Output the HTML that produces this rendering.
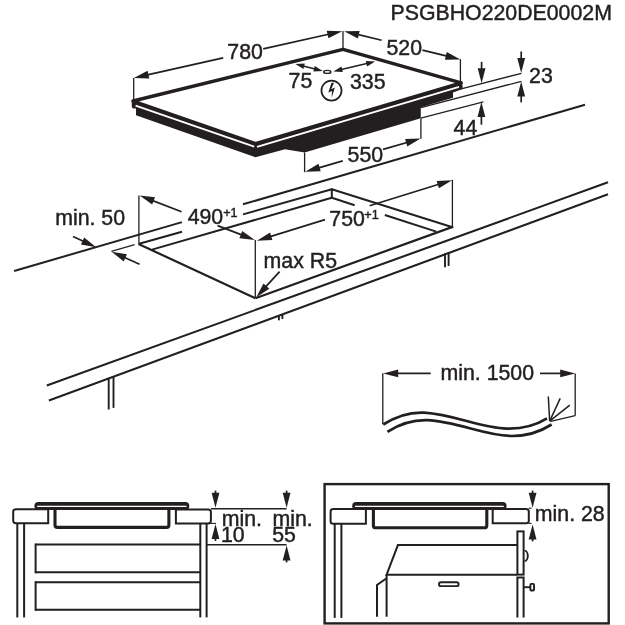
<!DOCTYPE html>
<html><head><meta charset="utf-8"><title>Hob installation</title><style>
html,body{margin:0;padding:0;background:#fff;width:625px;height:625px;overflow:hidden}
svg{display:block;will-change:transform;font-family:"Liberation Sans",sans-serif}
text{fill:#231f20;stroke:#231f20;stroke-width:0.45px}
</style></head><body>
<svg width="625" height="625" viewBox="0 0 625 625">
<text x="390.54" y="19.88" font-size="21.3">PSGBHO220DE0002M</text>
<polygon points="131.8,99.6 255.5,143.6 462,81 462.8,89 453,92.6 453,97.8 420.8,107.2 420.8,118.2 304.6,152.4 285,149.2 255.5,157.2 136,115.2 136,108.4 133.2,108.4 131.8,107.2" fill="#231f20" stroke="none" stroke-width="0" stroke-linejoin="round"/>
<line x1="135.6" y1="105.6" x2="254.2" y2="146.7" stroke="#fff" stroke-width="1.9" stroke-linecap="butt"/>
<line x1="257" y1="146.8" x2="459" y2="86.9" stroke="#fff" stroke-width="1.9" stroke-linecap="butt"/>
<polygon points="133,101 343,49.3 461.2,82.9 255.5,143.6" fill="#fff" stroke="#231f20" stroke-width="3.4" stroke-linejoin="round"/>
<line x1="133.7" y1="78" x2="133.7" y2="100" stroke="#231f20" stroke-width="1.3" stroke-linecap="butt"/>
<polygon points="133.8,77.9 149.29,78.43 147.58,70.81" fill="#231f20" stroke="none" stroke-width="0" />
<polygon points="342.2,31.2 326.71,30.67 328.42,38.29" fill="#231f20" stroke="none" stroke-width="0" />
<line x1="144.05" y1="75.6" x2="223.2" y2="57.87" stroke="#231f20" stroke-width="1.7" stroke-linecap="butt"/>
<line x1="263.2" y1="48.9" x2="331.95" y2="33.5" stroke="#231f20" stroke-width="1.7" stroke-linecap="butt"/>
<text x="227.36" y="59.48" font-size="21.3">780</text>
<line x1="343" y1="31" x2="343" y2="48" stroke="#231f20" stroke-width="1.3" stroke-linecap="butt"/>
<polygon points="344.2,31.2 357.86,38.53 359.7,30.95" fill="#231f20" stroke="none" stroke-width="0" />
<polygon points="460.4,59.4 446.74,52.07 444.9,59.65" fill="#231f20" stroke="none" stroke-width="0" />
<line x1="354.4" y1="33.68" x2="381.6" y2="40.28" stroke="#231f20" stroke-width="1.7" stroke-linecap="butt"/>
<line x1="422.4" y1="50.18" x2="450.2" y2="56.92" stroke="#231f20" stroke-width="1.7" stroke-linecap="butt"/>
<text x="386.49" y="54.68" font-size="21.3">520</text>
<line x1="460.4" y1="59.2" x2="460.4" y2="81" stroke="#231f20" stroke-width="1.3" stroke-linecap="butt"/>
<ellipse cx="327.3" cy="71.9" rx="3.6" ry="1.5" fill="#fff" stroke="#231f20" stroke-width="1.4"/>
<polygon points="295.4,64.1 303.46,68.99 304.81,63.55" fill="#231f20" stroke="none" stroke-width="0" />
<polygon points="322.8,70.9 314.74,66.01 313.39,71.45" fill="#231f20" stroke="none" stroke-width="0" />
<line x1="300" y1="65.2" x2="318" y2="69.7" stroke="#231f20" stroke-width="1.6" stroke-linecap="butt"/>
<polygon points="333.4,71.4 342.8,72.07 341.52,66.62" fill="#231f20" stroke="none" stroke-width="0" />
<polygon points="375.2,61.6 365.8,60.93 367.08,66.38" fill="#231f20" stroke="none" stroke-width="0" />
<line x1="338" y1="70.3" x2="370" y2="62.8" stroke="#231f20" stroke-width="1.6" stroke-linecap="butt"/>
<text x="288.57" y="88.48" font-size="21.3">75</text>
<text x="349.99" y="89.18" font-size="21.3">335</text>
<circle cx="331.5" cy="90.6" r="10.05" fill="none" stroke="#231f20" stroke-width="1.7"/>
<polygon points="331.5,82.8 334,82.8 331.2,89.3 334.9,87.4 331.6,98 332,91 328.3,92.4" fill="#231f20" stroke="none" stroke-width="0" />
<line x1="461.2" y1="88.9" x2="521.4" y2="73.3" stroke="#231f20" stroke-width="1.3" stroke-linecap="butt"/>
<line x1="420.8" y1="107.6" x2="521.4" y2="81.3" stroke="#231f20" stroke-width="1.3" stroke-linecap="butt"/>
<line x1="420.8" y1="118.2" x2="483.4" y2="101.9" stroke="#231f20" stroke-width="1.3" stroke-linecap="butt"/>
<line x1="521.2" y1="62.5" x2="521.2" y2="51.5" stroke="#231f20" stroke-width="1.7" stroke-linecap="butt"/>
<polygon points="521.2,73 525.1,58 517.3,58" fill="#231f20" stroke="none" stroke-width="0" />
<line x1="521.2" y1="91.9" x2="521.2" y2="102.4" stroke="#231f20" stroke-width="1.7" stroke-linecap="butt"/>
<polygon points="521.2,81.4 517.3,96.4 525.1,96.4" fill="#231f20" stroke="none" stroke-width="0" />
<line x1="481.6" y1="72.7" x2="481.6" y2="61.8" stroke="#231f20" stroke-width="1.7" stroke-linecap="butt"/>
<polygon points="481.6,83.2 485.5,68.2 477.7,68.2" fill="#231f20" stroke="none" stroke-width="0" />
<line x1="481.4" y1="112.4" x2="481.4" y2="124.7" stroke="#231f20" stroke-width="1.7" stroke-linecap="butt"/>
<polygon points="481.4,101.9 477.5,116.9 485.3,116.9" fill="#231f20" stroke="none" stroke-width="0" />
<text x="529.05" y="83.28" font-size="21.3">23</text>
<text x="453.55" y="134.55" font-size="21.3">44</text>
<line x1="304.6" y1="152.6" x2="304.6" y2="172.2" stroke="#231f20" stroke-width="1.3" stroke-linecap="butt"/>
<line x1="420.9" y1="118.5" x2="420.9" y2="138.8" stroke="#231f20" stroke-width="1.3" stroke-linecap="butt"/>
<polygon points="305.2,171.7 320.69,171.31 318.54,163.82" fill="#231f20" stroke="none" stroke-width="0" />
<polygon points="420.6,138.6 405.11,138.99 407.26,146.48" fill="#231f20" stroke="none" stroke-width="0" />
<line x1="315.29" y1="168.81" x2="342.7" y2="160.94" stroke="#231f20" stroke-width="1.7" stroke-linecap="butt"/>
<line x1="383" y1="149.38" x2="410.51" y2="141.49" stroke="#231f20" stroke-width="1.7" stroke-linecap="butt"/>
<text x="347.54" y="162.48" font-size="21.3">550</text>
<line x1="14.1" y1="271" x2="182" y2="222.09" stroke="#231f20" stroke-width="2.0" stroke-linecap="butt"/>
<line x1="243" y1="204.32" x2="585" y2="104.7" stroke="#231f20" stroke-width="2.0" stroke-linecap="butt"/>
<line x1="139.2" y1="243.8" x2="182" y2="231.67" stroke="#231f20" stroke-width="2.0" stroke-linecap="butt"/>
<line x1="243" y1="214.37" x2="331.8" y2="189.2" stroke="#231f20" stroke-width="2.0" stroke-linecap="butt"/>
<line x1="152" y1="249.6" x2="331.8" y2="197.8" stroke="#231f20" stroke-width="2.0" stroke-linecap="butt"/>
<line x1="331.8" y1="188.4" x2="331.8" y2="198.4" stroke="#231f20" stroke-width="2.0" stroke-linecap="butt"/>
<line x1="331.8" y1="189.2" x2="452.6" y2="227.2" stroke="#231f20" stroke-width="2.0" stroke-linecap="butt"/>
<line x1="331.8" y1="197.8" x2="354.7" y2="205.21" stroke="#231f20" stroke-width="2.0" stroke-linecap="butt"/>
<line x1="384.8" y1="214.94" x2="436.3" y2="231.6" stroke="#231f20" stroke-width="2.0" stroke-linecap="butt"/>
<line x1="138.5" y1="244" x2="255.4" y2="298.2" stroke="#231f20" stroke-width="2.2" stroke-linecap="butt"/>
<line x1="255.4" y1="298.2" x2="453.3" y2="226.6" stroke="#231f20" stroke-width="2.2" stroke-linecap="butt"/>
<line x1="138.9" y1="195.6" x2="138.9" y2="244" stroke="#231f20" stroke-width="1.3" stroke-linecap="butt"/>
<line x1="255.3" y1="240" x2="255.3" y2="298" stroke="#231f20" stroke-width="1.3" stroke-linecap="butt"/>
<line x1="452.4" y1="179.8" x2="452.4" y2="227" stroke="#231f20" stroke-width="1.3" stroke-linecap="butt"/>
<polygon points="139.6,195.6 152.2,204.62 155,197.34" fill="#231f20" stroke="none" stroke-width="0" />
<polygon points="254.8,239.9 242.2,230.88 239.4,238.16" fill="#231f20" stroke="none" stroke-width="0" />
<line x1="149.4" y1="199.37" x2="181.6" y2="211.75" stroke="#231f20" stroke-width="1.7" stroke-linecap="butt"/>
<line x1="217.6" y1="225.59" x2="245" y2="236.13" stroke="#231f20" stroke-width="1.7" stroke-linecap="butt"/>
<text x="187.63" y="223.78" font-size="21.3">490</text>
<text x="223.28" y="216.75" font-size="12.6">+1</text>
<polygon points="256.9,240.7 272.38,239.98 270.07,232.53" fill="#231f20" stroke="none" stroke-width="0" />
<polygon points="452.1,180.2 436.62,180.92 438.93,188.37" fill="#231f20" stroke="none" stroke-width="0" />
<line x1="266.93" y1="237.59" x2="325" y2="219.59" stroke="#231f20" stroke-width="1.7" stroke-linecap="butt"/>
<line x1="369.6" y1="205.77" x2="442.07" y2="183.31" stroke="#231f20" stroke-width="1.7" stroke-linecap="butt"/>
<text x="329.31" y="226.18" font-size="21.3">750</text>
<text x="364.33" y="218.65" font-size="12.6">+1</text>
<text x="263.62" y="267.58" font-size="21.3">max R5</text>
<line x1="263.37" y1="289.43" x2="279.6" y2="271.6" stroke="#231f20" stroke-width="1.7" stroke-linecap="butt"/>
<polygon points="256.3,297.2 269.28,288.73 263.51,283.48" fill="#231f20" stroke="none" stroke-width="0" />
<text x="55.16" y="224.68" font-size="21.3">min. 50</text>
<line x1="86.65" y1="242.84" x2="73" y2="236.6" stroke="#231f20" stroke-width="1.7" stroke-linecap="butt"/>
<polygon points="96.2,247.2 84.18,237.42 80.94,244.51" fill="#231f20" stroke="none" stroke-width="0" />
<line x1="111.4" y1="251.4" x2="134.6" y2="244.6" stroke="#231f20" stroke-width="1.2" stroke-linecap="butt"/>
<line x1="121.19" y1="255.98" x2="139.6" y2="264.2" stroke="#231f20" stroke-width="1.7" stroke-linecap="butt"/>
<polygon points="111.6,251.7 123.71,261.38 126.89,254.25" fill="#231f20" stroke="none" stroke-width="0" />
<line x1="46.8" y1="385.5" x2="608" y2="182.3" stroke="#231f20" stroke-width="2.1" stroke-linecap="butt"/>
<line x1="48.9" y1="400.6" x2="608" y2="194.2" stroke="#231f20" stroke-width="2.1" stroke-linecap="butt"/>
<line x1="108.7" y1="378.8" x2="108.7" y2="409.5" stroke="#231f20" stroke-width="1.9" stroke-linecap="butt"/>
<line x1="113.5" y1="377" x2="113.5" y2="407.9" stroke="#231f20" stroke-width="1.9" stroke-linecap="butt"/>
<line x1="278.9" y1="315.8" x2="278.9" y2="320.3" stroke="#231f20" stroke-width="1.9" stroke-linecap="butt"/>
<line x1="282.4" y1="314.8" x2="282.4" y2="319" stroke="#231f20" stroke-width="1.9" stroke-linecap="butt"/>
<line x1="445" y1="253.6" x2="445" y2="267.3" stroke="#231f20" stroke-width="1.9" stroke-linecap="butt"/>
<line x1="448.6" y1="252.4" x2="448.6" y2="266" stroke="#231f20" stroke-width="1.9" stroke-linecap="butt"/>
<line x1="382.8" y1="373.2" x2="382.8" y2="424.2" stroke="#231f20" stroke-width="1.3" stroke-linecap="butt"/>
<line x1="393.7" y1="373.4" x2="430.7" y2="373.4" stroke="#231f20" stroke-width="1.7" stroke-linecap="butt"/>
<polygon points="383.2,373.4 398.2,377.3 398.2,369.5" fill="#231f20" stroke="none" stroke-width="0" />
<text x="440.51" y="379.68" font-size="21.3">min. 1500</text>
<line x1="564.7" y1="373.4" x2="540" y2="373.4" stroke="#231f20" stroke-width="1.7" stroke-linecap="butt"/>
<polygon points="575.2,373.4 560.2,369.5 560.2,377.3" fill="#231f20" stroke="none" stroke-width="0" />
<line x1="575.2" y1="373.4" x2="575.2" y2="415.7" stroke="#231f20" stroke-width="1.3" stroke-linecap="butt"/>
<line x1="575.2" y1="415.7" x2="550.6" y2="421.4" stroke="#231f20" stroke-width="1.3" stroke-linecap="butt"/>
<path d="M383.2,424.5 C398,415 410,412 424,412.6 C455,414.5 480,428 507,428.6 C525,429 538,424 547,418.4" fill="none" stroke="#231f20" stroke-width="2.7" />
<path d="M387.4,431.9 C401,423 413,420 427,420.2 C458,421.5 485,436 512,436 C530,436 543,430 551.6,424.5" fill="none" stroke="#231f20" stroke-width="2.7" />
<line x1="549.7" y1="421.1" x2="548.3" y2="396.5" stroke="#231f20" stroke-width="1.5" stroke-linecap="butt"/>
<line x1="549.7" y1="421.1" x2="560.2" y2="398.4" stroke="#231f20" stroke-width="1.5" stroke-linecap="butt"/>
<line x1="549.7" y1="421.1" x2="569.8" y2="405.1" stroke="#231f20" stroke-width="1.5" stroke-linecap="butt"/>
<rect x="34.4" y="502.1" width="154.9" height="7.8" rx="3.9" fill="#231f20"/>
<line x1="37.2" y1="506.3" x2="186.5" y2="506.3" stroke="#fff" stroke-width="1.3" stroke-linecap="butt"/>
<path d="M55,509 V525 Q55,527.4 57.4,527.4 H166.5 Q168.9,527.4 168.9,525 V509" fill="none" stroke="#231f20" stroke-width="3.1" />
<path d="M48.2,509.2 H15.8 Q13.2,509.2 13.2,511.8 V520.6 Q13.2,523.2 15.8,523.2 H48.2 Z" fill="none" stroke="#231f20" stroke-width="2.0" />
<path d="M175.9,509.4 H208.3 Q210.9,509.4 210.9,512 V520.8 Q210.9,523.4 208.3,523.4 H175.9 Z" fill="none" stroke="#231f20" stroke-width="2.0" />
<line x1="17.3" y1="523.4" x2="17.3" y2="617.4" stroke="#231f20" stroke-width="2.0" stroke-linecap="butt"/>
<line x1="24.1" y1="523.4" x2="24.1" y2="617.4" stroke="#231f20" stroke-width="2.0" stroke-linecap="butt"/>
<line x1="200.3" y1="523.4" x2="200.3" y2="617.4" stroke="#231f20" stroke-width="2.0" stroke-linecap="butt"/>
<line x1="206.6" y1="523.4" x2="206.6" y2="617.4" stroke="#231f20" stroke-width="2.0" stroke-linecap="butt"/>
<line x1="35.6" y1="544.5" x2="200.3" y2="544.5" stroke="#231f20" stroke-width="2.0" stroke-linecap="butt"/>
<line x1="35.6" y1="572.3" x2="200.3" y2="572.3" stroke="#231f20" stroke-width="2.0" stroke-linecap="butt"/>
<line x1="35.6" y1="543.5" x2="35.6" y2="573.3" stroke="#231f20" stroke-width="2.0" stroke-linecap="butt"/>
<line x1="35.6" y1="582.2" x2="200.3" y2="582.2" stroke="#231f20" stroke-width="2.0" stroke-linecap="butt"/>
<line x1="35.6" y1="609.8" x2="200.3" y2="609.8" stroke="#231f20" stroke-width="2.0" stroke-linecap="butt"/>
<line x1="35.6" y1="581.2" x2="35.6" y2="610.8" stroke="#231f20" stroke-width="2.0" stroke-linecap="butt"/>
<line x1="210.9" y1="508.7" x2="286.6" y2="508.7" stroke="#231f20" stroke-width="1.4" stroke-linecap="butt"/>
<line x1="208" y1="523.4" x2="216" y2="523.4" stroke="#231f20" stroke-width="1.1" stroke-linecap="butt"/>
<line x1="206.5" y1="544.8" x2="286.6" y2="544.8" stroke="#231f20" stroke-width="1.4" stroke-linecap="butt"/>
<line x1="215.5" y1="497.3" x2="215.5" y2="490.6" stroke="#231f20" stroke-width="1.7" stroke-linecap="butt"/>
<polygon points="215.5,507.8 219.4,492.8 211.6,492.8" fill="#231f20" stroke="none" stroke-width="0" />
<line x1="286.6" y1="497.3" x2="286.6" y2="490.6" stroke="#231f20" stroke-width="1.7" stroke-linecap="butt"/>
<polygon points="286.6,507.8 290.5,492.8 282.7,492.8" fill="#231f20" stroke="none" stroke-width="0" />
<line x1="215.5" y1="534.5" x2="215.5" y2="541" stroke="#231f20" stroke-width="1.7" stroke-linecap="butt"/>
<polygon points="215.5,524 211.6,539 219.4,539" fill="#231f20" stroke="none" stroke-width="0" />
<line x1="286.6" y1="556.1" x2="286.6" y2="562.4" stroke="#231f20" stroke-width="1.7" stroke-linecap="butt"/>
<polygon points="286.6,545.6 282.7,560.6 290.5,560.6" fill="#231f20" stroke="none" stroke-width="0" />
<text x="221.76" y="525.75" font-size="21.3">min.</text>
<text x="220.95" y="542.28" font-size="21.3">10</text>
<text x="272.56" y="525.75" font-size="21.3">min.</text>
<text x="272.15" y="542.28" font-size="21.3">55</text>
<rect x="324.6" y="484.1" width="284.1" height="139.3" fill="none" stroke="#231f20" stroke-width="2.4"/>
<rect x="352.2" y="502.1" width="154.4" height="7.8" rx="3.9" fill="#231f20"/>
<line x1="355" y1="506.3" x2="503.8" y2="506.3" stroke="#fff" stroke-width="1.3" stroke-linecap="butt"/>
<path d="M373.4,509 V525.4 Q373.4,527.8 375.8,527.8 H484.4 Q486.8,527.8 486.8,525.4 V509" fill="none" stroke="#231f20" stroke-width="3.1" />
<path d="M365.9,509.1 H333.2 Q330.6,509.1 330.6,511.7 V521.2 Q330.6,523.8 333.2,523.8 H365.9 Z" fill="none" stroke="#231f20" stroke-width="2.0" />
<path d="M492.7,509 H526.2 Q528.8,509 528.8,511.6 V520.7 Q528.8,523.3 526.2,523.3 H492.7 Z" fill="none" stroke="#231f20" stroke-width="2.0" />
<line x1="334.7" y1="523.8" x2="334.7" y2="617.9" stroke="#231f20" stroke-width="2.0" stroke-linecap="butt"/>
<line x1="341.4" y1="523.8" x2="341.4" y2="617.9" stroke="#231f20" stroke-width="2.0" stroke-linecap="butt"/>
<line x1="532.6" y1="497.3" x2="532.6" y2="490.6" stroke="#231f20" stroke-width="1.7" stroke-linecap="butt"/>
<polygon points="532.6,507.8 536.5,492.8 528.7,492.8" fill="#231f20" stroke="none" stroke-width="0" />
<line x1="532.6" y1="535.1" x2="532.6" y2="541.4" stroke="#231f20" stroke-width="1.7" stroke-linecap="butt"/>
<polygon points="532.6,524.6 528.7,539.6 536.5,539.6" fill="#231f20" stroke="none" stroke-width="0" />
<line x1="528.8" y1="508.2" x2="531.6" y2="508.2" stroke="#231f20" stroke-width="1.1" stroke-linecap="butt"/>
<line x1="528.8" y1="523.4" x2="531.6" y2="523.4" stroke="#231f20" stroke-width="1.1" stroke-linecap="butt"/>
<text x="534.86" y="520.88" font-size="21.3">min. 28</text>
<polyline points="517,545.1 397.9,545.1 386.6,574.7 517,574.7" fill="none" stroke="#231f20" stroke-width="2.0" />
<line x1="386.6" y1="574.7" x2="386.6" y2="616.7" stroke="#231f20" stroke-width="2.0" stroke-linecap="butt"/>
<polyline points="386.6,578.3 377,585 377,616.7" fill="none" stroke="#231f20" stroke-width="2.0" />
<rect x="517.4" y="531.4" width="6.2" height="43.2" fill="#fff" stroke="#231f20" stroke-width="2"/>
<polyline points="517.4,617.4 517.4,577.6 523.6,577.6 523.6,617.4" fill="none" stroke="#231f20" stroke-width="2.0" />
<path d="M524.6,550.6 A3.2,5.2 0 0 1 524.6,561" fill="none" stroke="#231f20" stroke-width="1.9" />
<line x1="523.6" y1="587.2" x2="530.4" y2="587.2" stroke="#231f20" stroke-width="1.9" stroke-linecap="butt"/>
<rect x="530.4" y="583.9" width="3.6" height="6.6" rx="0.8" fill="#fff" stroke="#231f20" stroke-width="1.9"/>
<rect x="439" y="582.3" width="19.6" height="3.8" rx="1.9" fill="#fff" stroke="#231f20" stroke-width="1.9"/>
</svg></body></html>
